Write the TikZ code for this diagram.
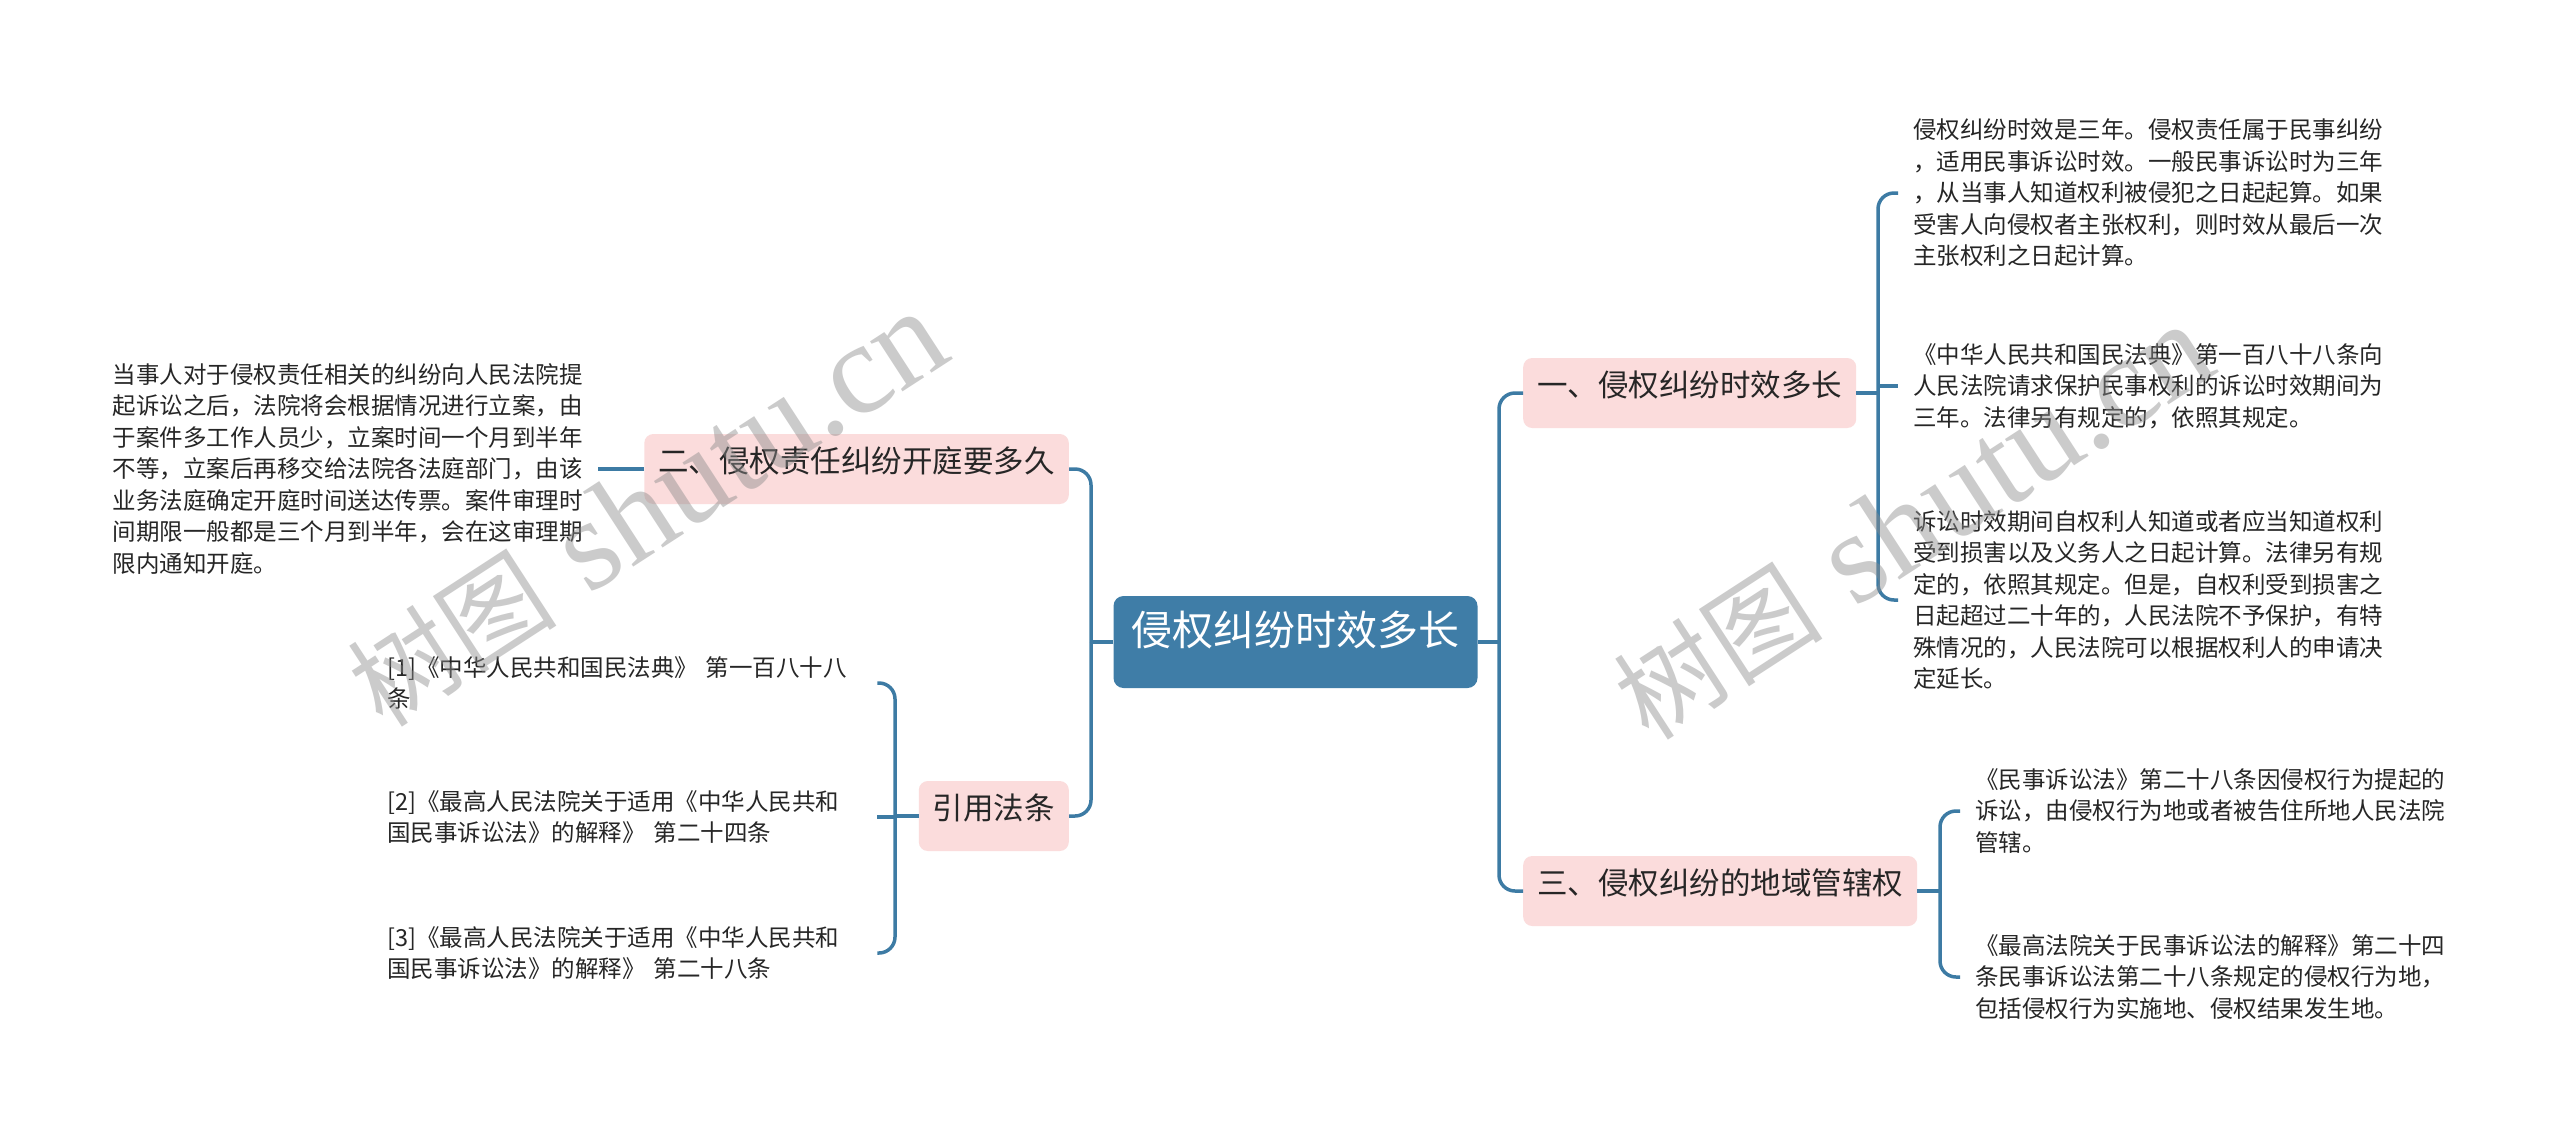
\documentclass[tikz,border=0pt]{standalone}
\usepackage{fontspec}
\setmainfont{Noto Sans CJK SC}
\newfontfamily\wmcjk{Noto Sans CJK SC}
\newfontfamily\wmlat{Liberation Serif}
\usetikzlibrary{calc}
\definecolor{rootblue}{HTML}{3F7DA7}
\definecolor{linkblue}{HTML}{3D7BA4}
\definecolor{pinkbox}{HTML}{FBDCDC}
\definecolor{txt}{HTML}{262626}
\definecolor{wmgray}{HTML}{8C8C8C}
\tikzset{
  conn/.style={draw=linkblue, line width=3.5pt, rounded corners=16pt},
  rootbox/.style={fill=rootblue, rounded corners=10pt, text=white, font=\fontsize{41}{41}\selectfont, inner xsep=18pt, inner ysep=0pt, minimum height=92pt, text height=0.88em, text depth=0.12em},
  branchbox/.style={fill=pinkbox, rounded corners=9pt, text=txt, font=\fontsize{30.5}{30.5}\selectfont, inner xsep=14pt, inner ysep=0pt, minimum height=70pt, text height=0.88em, text depth=0.12em},
  leaf/.style={text=txt, font=\fontsize{23.5}{31.5}\selectfont, align=left, inner ysep=2pt},
  wmark/.style={text=wmgray, text opacity=0.45, rotate=33, inner sep=0pt}
}
\newcommand{\wmtext}{{\wmcjk\fontsize{105}{105}\selectfont 树图}\hspace{35pt}{\wmlat\fontsize{130}{130}\selectfont shutu.cn}}
\begin{document}
\begin{tikzpicture}[x=1pt,y=-1pt]
\useasboundingbox[fill=white] (0,0) rectangle (2560,1133);

% root and branches
\node[rootbox] (root) at (1295.5,642) {侵权纠纷时效多长};
\node[branchbox, anchor=west] (b1) at (1523,393) {一、侵权纠纷时效多长};
\node[branchbox, anchor=west] (b3) at (1523,891) {三、侵权纠纷的地域管辖权};
\node[branchbox, anchor=east] (b2) at (1069,469) {二、侵权责任纠纷开庭要多久};
\node[branchbox, anchor=east] (ref) at (1069,816) {引用法条};

% right leaves
\node[leaf, anchor=west, inner xsep=15pt, text width=475pt] (L1) at (1898,193) {侵权纠纷时效是三年。侵权责任属于民事纠纷\\，适用民事诉讼时效。一般民事诉讼时为三年\\，从当事人知道权利被侵犯之日起起算。如果\\受害人向侵权者主张权利，则时效从最后一次\\主张权利之日起计算。};
\node[leaf, anchor=west, inner xsep=15pt, text width=475pt] (L2) at (1898,386) {《中华人民共和国民法典》第一百八十八条向\\人民法院请求保护民事权利的诉讼时效期间为\\三年。法律另有规定的，依照其规定。};
\node[leaf, anchor=west, inner xsep=15pt, text width=475pt] (L3) at (1898,600) {诉讼时效期间自权利人知道或者应当知道权利\\受到损害以及义务人之日起计算。法律另有规\\定的，依照其规定。但是，自权利受到损害之\\日起超过二十年的，人民法院不予保护，有特\\殊情况的，人民法院可以根据权利人的申请决\\定延长。};
\node[leaf, anchor=west, inner xsep=15pt, text width=475pt] (L4) at (1960,811) {《民事诉讼法》第二十八条因侵权行为提起的\\诉讼，由侵权行为地或者被告住所地人民法院\\管辖。};
\node[leaf, anchor=west, inner xsep=15pt, text width=475pt] (L5) at (1960,977) {《最高法院关于民事诉讼法的解释》第二十四\\条民事诉讼法第二十八条规定的侵权行为地，\\包括侵权行为实施地、侵权结果发生地。};

% left leaf
\node[leaf, anchor=east, inner xsep=12pt, text width=473pt] (LL) at (598,469) {当事人对于侵权责任相关的纠纷向人民法院提\\起诉讼之后，法院将会根据情况进行立案，由\\于案件多工作人员少，立案时间一个月到半年\\不等，立案后再移交给法院各法庭部门，由该\\业务法庭确定开庭时间送达传票。案件审理时\\间期限一般都是三个月到半年，会在这审理期\\限内通知开庭。};

% references
\node[leaf, anchor=west, inner xsep=0pt, text width=490pt] (R1) at (387,683) {[1]《中华人民共和国民法典》 第一百八十八\\条};
\node[leaf, anchor=west, inner xsep=0pt, text width=490pt] (R2) at (387,817) {[2]《最高人民法院关于适用《中华人民共和\\国民事诉讼法》的解释》 第二十四条};
\node[leaf, anchor=west, inner xsep=0pt, text width=490pt] (R3) at (387,953) {[3]《最高人民法院关于适用《中华人民共和\\国民事诉讼法》的解释》 第二十八条};

% trunk x positions
\coordinate (tRx) at (1499,0);
\coordinate (tLx) at (1091,0);
\coordinate (t1x) at (1878,0);
\coordinate (t3x) at (1940,0);
\coordinate (tFx) at (895,0);

% root connectors
\draw[conn] (root.east) -- (root.east -| tRx);
\draw[conn] (root.east -| tRx) |- (b1.west);
\draw[conn] (root.east -| tRx) |- (b3.west);
\draw[conn] (root.west) -- (root.west -| tLx);
\draw[conn] (root.west -| tLx) |- (b2.east);
\draw[conn] (root.west -| tLx) |- (ref.east);

% branch 1
\draw[conn] (b1.east) -- (b1.east -| t1x);
\draw[conn] (b1.east -| t1x) |- (L1.west);
\draw[conn] (b1.east -| t1x) |- (L3.west);
\draw[conn] (L2.west -| t1x) -- (L2.west);

% branch 3
\draw[conn] (b3.east) -- (b3.east -| t3x);
\draw[conn] (b3.east -| t3x) |- (L4.west);
\draw[conn] (b3.east -| t3x) |- (L5.west);

% branch 2
\draw[conn] (b2.west) -- (b2.west -| LL.east);

% references
\draw[conn] (ref.west) -- (ref.west -| tFx);
\draw[conn] (ref.west -| tFx) |- (R1.east);
\draw[conn] (ref.west -| tFx) |- (R3.east);
\draw[conn] (R2.east -| tFx) -- (R2.east);

% watermarks
\node[wmark] (wm1) at (647,509) {\wmtext};
\node[wmark] (wm2) at (1913,522) {\wmtext};
\end{tikzpicture}
\end{document}
